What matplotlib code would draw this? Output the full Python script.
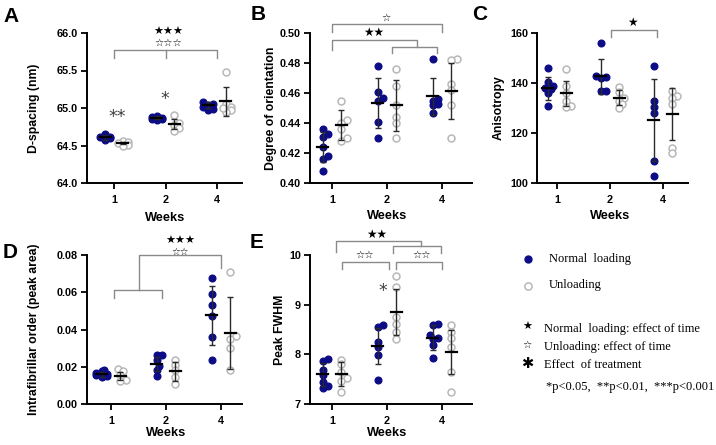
import matplotlib
matplotlib.use('Agg')
import matplotlib.pyplot as plt
import numpy as np

plt.rcParams['font.family'] = ['Liberation Sans', 'DejaVu Sans']

# ---------------- data ----------------
weeks = ['1', '2', '4']

A_norm = [[64.66, 64.64, 64.62, 64.60, 64.58, 64.61],
          [64.90, 64.88, 64.86, 64.85, 64.84, 64.87],
          [65.08, 65.06, 65.04, 65.02, 64.98, 64.99]]
A_unl = [[64.56, 64.54, 64.53, 64.51, 64.50],
         [64.91, 64.80, 64.77, 64.73, 64.70],
         [65.48, 65.05, 65.02, 64.98, 64.95, 65.00]]
A_norm_mean = [64.61, 64.87, 65.04]
A_norm_sd = [0.03, 0.02, 0.04]
A_unl_mean = [64.53, 64.79, 65.09]
A_unl_sd = [0.015, 0.07, 0.19]

B_norm = [[0.436, 0.433, 0.431, 0.424, 0.418, 0.416, 0.408],
          [0.478, 0.461, 0.457, 0.455, 0.441, 0.430],
          [0.483, 0.456, 0.455, 0.453, 0.452, 0.447]]
B_unl = [[0.455, 0.442, 0.440, 0.436, 0.430, 0.428],
         [0.476, 0.465, 0.452, 0.444, 0.440, 0.430],
         [0.483, 0.482, 0.466, 0.462, 0.452, 0.430]]
B_norm_mean = [0.4238, 0.4535, 0.4577]
B_norm_sd = [0.010, 0.0165, 0.0125]
B_unl_mean = [0.4387, 0.452, 0.4613]
B_unl_sd = [0.010, 0.017, 0.0186]

C_norm = [[146, 140.5, 139, 138, 137.5, 136, 131],
          [156, 143, 142.5, 142, 137, 137],
          [147, 133, 130.5, 128, 109, 103]]
C_unl = [[145.5, 139, 136, 133, 131, 130.5],
         [138.5, 136.5, 134, 133, 131.5, 130],
         [137, 135, 134, 131.5, 114, 112]]
C_norm_mean = [137.9, 142.8, 125.2]
C_norm_sd = [4.6, 7.0, 16.3]
C_unl_mean = [135.9, 134.2, 127.7]
C_unl_sd = [5.0, 3.0, 10.5]

D_norm = [[0.018, 0.0175, 0.0165, 0.016, 0.0155, 0.015, 0.0145],
          [0.0265, 0.0262, 0.0235, 0.0205, 0.0185, 0.015],
          [0.0675, 0.059, 0.053, 0.047, 0.036, 0.0235]]
D_unl = [[0.019, 0.0175, 0.0155, 0.013, 0.0125],
         [0.0235, 0.021, 0.0185, 0.0145, 0.011],
         [0.071, 0.0365, 0.035, 0.030, 0.018]]
D_norm_mean = [0.0159, 0.0213, 0.0476]
D_norm_sd = [0.0015, 0.0038, 0.016]
D_unl_mean = [0.0152, 0.0177, 0.038]
D_unl_sd = [0.0022, 0.0051, 0.0194]

E_norm = [[7.91, 7.87, 7.68, 7.58, 7.45, 7.36, 7.33],
          [8.60, 8.55, 8.25, 8.15, 7.99, 7.48],
          [8.62, 8.59, 8.38, 8.33, 8.30, 8.19, 7.92]]
E_unl = [[7.89, 7.80, 7.65, 7.52, 7.47, 7.25],
         [9.57, 9.36, 8.75, 8.62, 8.45, 8.30],
         [8.59, 8.45, 8.32, 8.15, 7.65, 7.25]]
E_norm_mean = [7.60, 8.17, 8.335]
E_norm_sd = [0.235, 0.36, 0.25]
E_unl_mean = [7.60, 8.85, 8.04]
E_unl_sd = [0.245, 0.46, 0.44]

# ---------------- style ----------------
NAVY = '#0c0c86'
GREY_C = '#b8b8b8'
BR = '#8a8a8a'
ASTC = '#404040'
W, H = 716, 445
fig = plt.figure(figsize=(7.16, 4.45), dpi=100)


def add_panel(left, right, top, bottom, ticks_px):
    ax = fig.add_axes([left / W, 1 - bottom / H, (right - left) / W, (bottom - top) / H])
    t0 = ticks_px[0]
    sp = (ticks_px[2] - ticks_px[0]) / 2.0
    ax.set_xlim((left - t0) / sp, (right - t0) / sp)
    for s in ['top', 'right']:
        ax.spines[s].set_visible(False)
    for s in ['left', 'bottom']:
        ax.spines[s].set_linewidth(1.4)
    ax.tick_params(width=1.3, length=4, labelsize=7.8, pad=2.5)
    ax.tick_params(axis='x', pad=4.5)
    ax.set_xticks(range(3))
    ax.set_xticklabels(weeks, fontweight='bold')
    return ax, sp, (bottom - top)


def swarm(vals, ypx, diam=5.5, step=2.6):
    order = np.argsort(vals)
    placed = []
    offs = np.zeros(len(vals))
    for idx in order:
        y = vals[idx] * ypx
        cands = [0, step, -step, 2 * step, -2 * step]
        best = cands[0]
        for c in cands:
            ok = all((c - px) ** 2 + (y - py) ** 2 >= (diam * 0.75) ** 2 for px, py in placed)
            if ok:
                best = c
                break
        else:
            best = cands[len(placed) % 5]
        placed.append((best, y))
        offs[idx] = best
    return offs


def draw(ax, sp, hpx, ylim, norm, unl, nm, nsd, um, usd):
    ypx = hpx / (ylim[1] - ylim[0])
    for i in range(3):
        for vals, xc, filled in [(norm[i], i - 0.17, True), (unl[i], i + 0.17, False)]:
            v = np.array(vals, dtype=float)
            offs = swarm(v, ypx) / sp
            if filled:
                ax.plot(xc + offs, v, 'o', ms=4.8, color=NAVY, mec=NAVY, zorder=3, clip_on=False)
            else:
                ax.plot(xc + offs, v, 'o', ms=5.0, mfc='white', mec=GREY_C, mew=1.1, zorder=2, clip_on=False)
        for xc, m, s in [(i - 0.17, nm[i], nsd[i]), (i + 0.17, um[i], usd[i])]:
            ax.errorbar([xc], [m], yerr=[s], fmt='none', ecolor='#2a2a2a', elinewidth=1.0,
                        capsize=2.3, capthick=1.0, zorder=4)
            ax.plot([xc - 5.5 / sp, xc + 5.5 / sp], [m, m], color='black', lw=1.6, zorder=5)
    ax.set_ylim(*ylim)


def bracket(ax, xs, ys):
    ax.plot(xs, ys, color=BR, lw=1.0, clip_on=False, zorder=6)


def star(ax, x, y, s, size=7.5, color='black'):
    ax.text(x, y, s, ha='center', va='center', fontsize=size, color=color,
            family=['DejaVu Sans'], clip_on=False)


def ylab(ax, text, cx_px, left, right):
    ax.set_ylabel(text, fontsize=8.8, fontweight='bold')
    ax.yaxis.set_label_coords((cx_px + 5 - left) / (right - left), 0.5)


def xlab(ax, top_px_below, hpx, xl):
    ax.set_xlabel('Weeks', fontsize=9.2, fontweight='bold')
    ax.xaxis.set_label_coords((1 - xl[0]) / (xl[1] - xl[0]), -top_px_below / hpx)


# ---------------- Panel A ----------------
axA, spA, hA = add_panel(87, 242, 33, 183, [114, 166, 217])
draw(axA, spA, hA, (64.0, 66.0), A_norm, A_unl, A_norm_mean, A_norm_sd, A_unl_mean, A_unl_sd)
axA.set_yticks([64.0, 64.5, 65.0, 65.5, 66.0])
axA.set_yticklabels(['64.0', '64.5', '65.0', '65.5', '66.0'], fontweight='bold')
ylab(axA, 'D-spacing (nm)', 35, 87, 242)
xlab(axA, 29, hA, axA.get_xlim())
bracket(axA, [0, 0, 2, 2], [65.67, 65.77, 65.77, 65.67])
bracket(axA, [1, 1], [65.77, 65.67])
star(axA, 1.05, 66.02, '★★★', 8)
star(axA, 1.05, 65.865, '☆☆☆', 7.5)
star(axA, 0.06, 64.88, '**', 12.5, ASTC)
star(axA, 0.99, 65.12, '*', 12.5, ASTC)

# ---------------- Panel B ----------------
axB, spB, hB = add_panel(310, 472, 33, 183, [332, 387, 442])
draw(axB, spB, hB, (0.40, 0.50), B_norm, B_unl, B_norm_mean, B_norm_sd, B_unl_mean, B_unl_sd)
axB.set_yticks([0.40, 0.42, 0.44, 0.46, 0.48, 0.50])
axB.set_yticklabels(['0.40', '0.42', '0.44', '0.46', '0.48', '0.50'], fontweight='bold')
ylab(axB, 'Degree of orientation', 271.7, 310, 472)
xlab(axB, 27, hB, axB.get_xlim())
bracket(axB, [0, 0, 2, 2], [0.5009, 0.5058, 0.5058, 0.5009])
star(axB, 0.99, 0.5098, '☆', 7.5)
bracket(axB, [0, 0, 1.54, 1.54], [0.4887, 0.4953, 0.4953, 0.4909])
bracket(axB, [1.085, 1.085, 1.91, 1.91], [0.4867, 0.4909, 0.4909, 0.4867])
star(axB, 0.75, 0.5002, '★★', 8.5)

# ---------------- Panel C ----------------
axC, spC, hC = add_panel(537, 688, 33, 183, [557, 612, 663])
draw(axC, spC, hC, (100, 160), C_norm, C_unl, C_norm_mean, C_norm_sd, C_unl_mean, C_unl_sd)
axC.set_yticks([100, 120, 140, 160])
axC.set_yticklabels(['100', '120', '140', '160'], fontweight='bold')
ylab(axC, 'Anisotropy', 500, 537, 688)
xlab(axC, 27, hC, axC.get_xlim())
bracket(axC, [1.01, 1.01, 1.88, 1.88], [158.3, 161.2, 161.2, 158.3])
star(axC, 1.43, 164.2, '★', 8.5)

# ---------------- Panel D ----------------
axD, spD, hD = add_panel(87, 242, 255, 404, [111, 166, 221])
draw(axD, spD, hD, (0.0, 0.08), D_norm, D_unl, D_norm_mean, D_norm_sd, D_unl_mean, D_unl_sd)
axD.set_yticks([0.0, 0.02, 0.04, 0.06, 0.08])
axD.set_yticklabels(['0.00', '0.02', '0.04', '0.06', '0.08'], fontweight='bold')
ylab(axD, 'Intrafibrillar order (peak area)', 35, 87, 242)
xlab(axD, 22.5, hD, axD.get_xlim())
bracket(axD, [0.06, 0.06, 0.93, 0.93], [0.0569, 0.0612, 0.0612, 0.0569])
bracket(axD, [0.51, 0.51, 2.0, 2.0], [0.0612, 0.080, 0.080, 0.073])
star(axD, 1.26, 0.0876, '★★★', 8)
star(axD, 1.26, 0.0815, '☆☆', 7)

# ---------------- Panel E ----------------
axE, spE, hE = add_panel(310, 472, 255, 404, [332, 387, 442])
draw(axE, spE, hE, (7, 10), E_norm, E_unl, E_norm_mean, E_norm_sd, E_unl_mean, E_unl_sd)
axE.set_yticks([7, 8, 9, 10])
axE.set_yticklabels(['7', '8', '9', '10'], fontweight='bold')
ylab(axE, 'Peak FWHM', 280.7, 310, 472)
xlab(axE, 22.5, hE, axE.get_xlim())
bracket(axE, [0.07, 0.07, 1.62, 1.62], [10.066, 10.288, 10.288, 10.18])
bracket(axE, [1.11, 1.11, 1.99, 1.99], [10.034, 10.18, 10.18, 10.034])
star(axE, 0.81, 10.42, '★★', 8.5)
bracket(axE, [0.18, 0.18, 1.04, 1.04], [9.72, 9.865, 9.865, 9.72])
bracket(axE, [1.16, 1.16, 2.0, 2.0], [9.72, 9.865, 9.865, 9.72])
star(axE, 0.6, 10.0, '☆☆', 7.5)
star(axE, 1.63, 10.0, '☆☆', 7.5)
star(axE, 0.93, 9.28, '*', 12.5, ASTC)

# ---------------- panel letters ----------------
for lab, x, y in [('A', 3, 7), ('B', 251, 5), ('C', 472, 5), ('D', 3, 243), ('E', 250, 233)]:
    fig.text(x / W, 1 - y / H, lab, fontsize=15, fontweight='bold', ha='left', va='top')

# ---------------- legend ----------------
lg = fig.add_axes([0, 0, 1, 1])
lg.set_xlim(0, W)
lg.set_ylim(H, 0)
lg.axis('off')
lg.patch.set_alpha(0)
lg.plot([528], [259], 'o', ms=5, color=NAVY)
lg.plot([528], [286], 'o', ms=5.2, mfc='white', mec=GREY_C, mew=1.1)
serif = ['Liberation Serif', 'DejaVu Serif']
lg.text(549, 259, 'Normal  loading', family=serif, fontsize=9, va='center', ha='left')
lg.text(549, 285, 'Unloading', family=serif, fontsize=9, va='center', ha='left')
lg.text(527, 327, '★', family=['DejaVu Sans'], fontsize=8, va='center', ha='center')
lg.text(527, 345, '☆', family=['DejaVu Sans'], fontsize=7.5, va='center', ha='center')
lg.text(527, 363, '✱', family=['DejaVu Sans'], fontsize=10.5, va='center', ha='center')
lg.text(544, 329, 'Normal  loading: effect of time', family=serif, fontsize=9, va='center', ha='left')
lg.text(544, 347, 'Unloading: effect of time', family=serif, fontsize=9, va='center', ha='left')
lg.text(544, 365, 'Effect  of treatment', family=serif, fontsize=9, va='center', ha='left')
lg.text(546, 387, '*p<0.05,  **p<0.01,  ***p<0.001', family=serif, fontsize=9, va='center', ha='left')

fig.savefig('out.png', dpi=100)
